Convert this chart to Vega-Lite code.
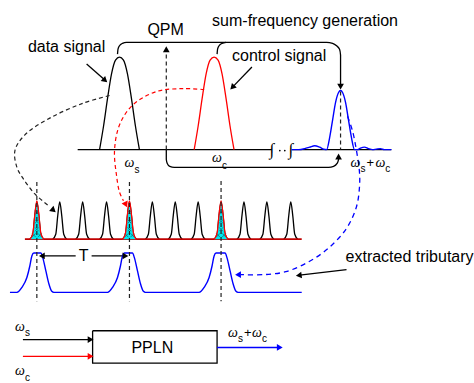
{
"$schema": "https://vega.github.io/schema/vega-lite/v6.json",
"width": 474, "height": 383,
"autosize": {"type": "fit", "contains": "padding"},
"padding": 0,
"background": "white",
"config": {"view": {"stroke": null}},
"datasets": {
"blk": [
{"id":"base1","x":78,"y":152},{"id":"base1","x":273,"y":152},
{"id":"base2","x":293,"y":152},{"id":"base2","x":393,"y":152},
{"id":"data","x":100,"y":152},{"id":"data","x":104,"y":128},{"id":"data","x":108,"y":100},{"id":"data","x":112,"y":75},{"id":"data","x":116,"y":61},{"id":"data","x":120,"y":58},{"id":"data","x":124,"y":61},{"id":"data","x":128,"y":75},{"id":"data","x":132,"y":100},{"id":"data","x":136,"y":128},{"id":"data","x":140,"y":152},
{"id":"br1","x":118,"y":55},{"id":"br1","x":118.5,"y":50},{"id":"br1","x":120,"y":46.5},{"id":"br1","x":123,"y":44},{"id":"br1","x":127,"y":43},{"id":"br1","x":328,"y":43},{"id":"br1","x":334,"y":44},{"id":"br1","x":338,"y":46.5},{"id":"br1","x":341,"y":50},{"id":"br1","x":342,"y":56},{"id":"br1","x":342,"y":86},
{"id":"br2","x":218,"y":55},{"id":"br2","x":218.5,"y":50},{"id":"br2","x":220,"y":46.5},{"id":"br2","x":223,"y":44},{"id":"br2","x":227,"y":43},
{"id":"br3","x":167,"y":152},{"id":"br3","x":167,"y":162},{"id":"br3","x":168,"y":166},{"id":"br3","x":170.5,"y":169},{"id":"br3","x":175,"y":170},{"id":"br3","x":330,"y":170},{"id":"br3","x":335,"y":169},{"id":"br3","x":338.5,"y":166},{"id":"br3","x":340,"y":162},{"id":"br3","x":340,"y":160},
{"id":"a1","x":87,"y":65},{"id":"a1","x":105,"y":81},
{"id":"a2","x":253,"y":68},{"id":"a2","x":234,"y":88},
{"id":"t1","x":43,"y":260},{"id":"t1","x":76,"y":260},
{"id":"t2","x":92,"y":260},{"id":"t2","x":125,"y":260},
{"id":"a3","x":348,"y":274},{"id":"a3","x":301,"y":279.6},
{"id":"box","x":93,"y":336},{"id":"box","x":218,"y":336},{"id":"box","x":218,"y":369},{"id":"box","x":93,"y":369},{"id":"box","x":93,"y":336},
{"id":"a4","x":23,"y":345},{"id":"a4","x":90,"y":345}
],
"train": [
{"id":"p1","x":30,"y":243},{"id":"p1","x":33,"y":238},{"id":"p1","x":35,"y":219},{"id":"p1","x":37,"y":205},{"id":"p1","x":39,"y":219},{"id":"p1","x":41,"y":238},{"id":"p1","x":44,"y":243},
{"id":"p2","x":53,"y":243},{"id":"p2","x":56,"y":238},{"id":"p2","x":58,"y":219},{"id":"p2","x":60,"y":205},{"id":"p2","x":62,"y":219},{"id":"p2","x":64,"y":238},{"id":"p2","x":67,"y":243},
{"id":"p3","x":76,"y":243},{"id":"p3","x":79,"y":238},{"id":"p3","x":81,"y":219},{"id":"p3","x":83,"y":205},{"id":"p3","x":85,"y":219},{"id":"p3","x":87,"y":238},{"id":"p3","x":90,"y":243},
{"id":"p4","x":100,"y":243},{"id":"p4","x":103,"y":238},{"id":"p4","x":105,"y":219},{"id":"p4","x":107,"y":205},{"id":"p4","x":109,"y":219},{"id":"p4","x":111,"y":238},{"id":"p4","x":114,"y":243},
{"id":"p5","x":123,"y":243},{"id":"p5","x":126,"y":238},{"id":"p5","x":128,"y":219},{"id":"p5","x":130,"y":205},{"id":"p5","x":132,"y":219},{"id":"p5","x":134,"y":238},{"id":"p5","x":137,"y":243},
{"id":"p6","x":146,"y":243},{"id":"p6","x":149,"y":238},{"id":"p6","x":151,"y":219},{"id":"p6","x":153,"y":205},{"id":"p6","x":155,"y":219},{"id":"p6","x":157,"y":238},{"id":"p6","x":160,"y":243},
{"id":"p7","x":169,"y":243},{"id":"p7","x":172,"y":238},{"id":"p7","x":174,"y":219},{"id":"p7","x":176,"y":205},{"id":"p7","x":178,"y":219},{"id":"p7","x":180,"y":238},{"id":"p7","x":183,"y":243},
{"id":"p8","x":192,"y":243},{"id":"p8","x":195,"y":238},{"id":"p8","x":197,"y":219},{"id":"p8","x":199,"y":205},{"id":"p8","x":201,"y":219},{"id":"p8","x":203,"y":238},{"id":"p8","x":206,"y":243},
{"id":"p9","x":215,"y":243},{"id":"p9","x":218,"y":238},{"id":"p9","x":220,"y":219},{"id":"p9","x":222,"y":205},{"id":"p9","x":224,"y":219},{"id":"p9","x":226,"y":238},{"id":"p9","x":229,"y":243},
{"id":"p10","x":238,"y":243},{"id":"p10","x":241,"y":238},{"id":"p10","x":243,"y":219},{"id":"p10","x":245,"y":205},{"id":"p10","x":247,"y":219},{"id":"p10","x":249,"y":238},{"id":"p10","x":252,"y":243},
{"id":"p11","x":261,"y":243},{"id":"p11","x":264,"y":238},{"id":"p11","x":266,"y":219},{"id":"p11","x":268,"y":205},{"id":"p11","x":270,"y":219},{"id":"p11","x":272,"y":238},{"id":"p11","x":275,"y":243},
{"id":"p12","x":285,"y":243},{"id":"p12","x":288,"y":238},{"id":"p12","x":290,"y":219},{"id":"p12","x":292,"y":205},{"id":"p12","x":294,"y":219},{"id":"p12","x":296,"y":238},{"id":"p12","x":299,"y":243}
],
"hl": [
{"id":"h1","x":30,"y":243},{"id":"h1","x":33,"y":237},{"id":"h1","x":35,"y":218},{"id":"h1","x":37,"y":204},{"id":"h1","x":39,"y":218},{"id":"h1","x":41,"y":237},{"id":"h1","x":44,"y":243},
{"id":"h2","x":123,"y":243},{"id":"h2","x":126,"y":237},{"id":"h2","x":128,"y":218},{"id":"h2","x":130,"y":204},{"id":"h2","x":132,"y":218},{"id":"h2","x":134,"y":237},{"id":"h2","x":137,"y":243},
{"id":"h3","x":215,"y":243},{"id":"h3","x":218,"y":237},{"id":"h3","x":220,"y":218},{"id":"h3","x":222,"y":204},{"id":"h3","x":224,"y":218},{"id":"h3","x":226,"y":237},{"id":"h3","x":229,"y":243}
],
"hatch": [
{"x":37,"y":216},{"x":37,"y":225},{"x":37,"y":233},{"x":34,"y":239},{"x":40,"y":239},
{"x":130,"y":216},{"x":130,"y":225},{"x":130,"y":233},{"x":127,"y":239},{"x":133,"y":239},
{"x":222,"y":216},{"x":222,"y":225},{"x":222,"y":233},{"x":219,"y":239},{"x":225,"y":239}
],
"base": [{"id":"b","x":25,"y":243},{"id":"b","x":303,"y":243}],
"blkd": [
{"id":"qpm","x":167,"y":152},{"id":"qpm","x":167,"y":52},
{"id":"v1","x":342,"y":93},{"id":"v1","x":342,"y":152},
{"id":"v2","x":37,"y":185},{"id":"v2","x":37,"y":306},
{"id":"v3","x":130,"y":185},{"id":"v3","x":130,"y":306},
{"id":"v4","x":222,"y":184},{"id":"v4","x":222,"y":306},
{"id":"c","x":110,"y":97},{"id":"c","x":83,"y":105},{"id":"c","x":50,"y":120},{"id":"c","x":25,"y":137},{"id":"c","x":15,"y":153},{"id":"c","x":17,"y":170},{"id":"c","x":23,"y":181},{"id":"c","x":35,"y":197},{"id":"c","x":50,"y":210}
],
"red": [
{"id":"ctl","x":195,"y":152},{"id":"ctl","x":199,"y":128},{"id":"ctl","x":203,"y":100},{"id":"ctl","x":207,"y":75},{"id":"ctl","x":211,"y":61},{"id":"ctl","x":215,"y":58},{"id":"ctl","x":219,"y":61},{"id":"ctl","x":223,"y":75},{"id":"ctl","x":227,"y":100},{"id":"ctl","x":231,"y":128},{"id":"ctl","x":235,"y":152},
{"id":"ra","x":23,"y":362},{"id":"ra","x":90,"y":362}
],
"redd": [
{"id":"rc","x":205,"y":91},{"id":"rc","x":185,"y":90},{"id":"rc","x":157,"y":93},{"id":"rc","x":133,"y":107},{"id":"rc","x":120,"y":127},{"id":"rc","x":115,"y":153},{"id":"rc","x":117,"y":178},{"id":"rc","x":120,"y":195},{"id":"rc","x":124,"y":204}
],
"blue": [
{"id":"sfg","x":293,"y":152},{"id":"sfg","x":300,"y":152},{"id":"sfg","x":306,"y":151},{"id":"sfg","x":311,"y":149.5},{"id":"sfg","x":316,"y":148},{"id":"sfg","x":321,"y":149.5},{"id":"sfg","x":325,"y":151.5},{"id":"sfg","x":328,"y":152},{"id":"sfg","x":331,"y":140},{"id":"sfg","x":334,"y":122},{"id":"sfg","x":337,"y":104},{"id":"sfg","x":340,"y":94},{"id":"sfg","x":342,"y":92},{"id":"sfg","x":344,"y":94},{"id":"sfg","x":347,"y":104},{"id":"sfg","x":350,"y":122},{"id":"sfg","x":353,"y":140},{"id":"sfg","x":356,"y":152},{"id":"sfg","x":359,"y":152},{"id":"sfg","x":362,"y":150.5},{"id":"sfg","x":366,"y":149.5},{"id":"sfg","x":370,"y":151},{"id":"sfg","x":374,"y":152},{"id":"sfg","x":378,"y":151.5},{"id":"sfg","x":382,"y":151},{"id":"sfg","x":386,"y":152},{"id":"sfg","x":393,"y":152},
{"id":"trib","x":10,"y":297},{"id":"trib","x":17,"y":297},{"id":"trib","x":22,"y":292},{"id":"trib","x":27,"y":282},{"id":"trib","x":30,"y":270},{"id":"trib","x":32,"y":260},{"id":"trib","x":34,"y":257},{"id":"trib","x":41,"y":257},{"id":"trib","x":43,"y":262},{"id":"trib","x":46,"y":275},{"id":"trib","x":49,"y":288},{"id":"trib","x":52,"y":296},{"id":"trib","x":54,"y":297},
{"id":"trib","x":108,"y":297},{"id":"trib","x":113,"y":292},{"id":"trib","x":118,"y":282},{"id":"trib","x":121,"y":270},{"id":"trib","x":123,"y":260},{"id":"trib","x":125,"y":257},{"id":"trib","x":133,"y":257},{"id":"trib","x":135,"y":262},{"id":"trib","x":138,"y":275},{"id":"trib","x":141,"y":288},{"id":"trib","x":144,"y":296},{"id":"trib","x":146,"y":297},
{"id":"trib","x":200,"y":297},{"id":"trib","x":205,"y":292},{"id":"trib","x":210,"y":282},{"id":"trib","x":213,"y":270},{"id":"trib","x":215,"y":260},{"id":"trib","x":217,"y":257},{"id":"trib","x":226,"y":257},{"id":"trib","x":228,"y":262},{"id":"trib","x":231,"y":275},{"id":"trib","x":234,"y":288},{"id":"trib","x":237,"y":296},{"id":"trib","x":239,"y":297},{"id":"trib","x":303,"y":297},
{"id":"ba","x":218,"y":353},{"id":"ba","x":280,"y":353}
],
"blued": [
{"id":"bc","x":349,"y":118},{"id":"bc","x":354,"y":133},{"id":"bc","x":358,"y":153},{"id":"bc","x":361,"y":175},{"id":"bc","x":361,"y":190},{"id":"bc","x":358,"y":210},{"id":"bc","x":348,"y":232},{"id":"bc","x":330,"y":252},{"id":"bc","x":310,"y":266},{"id":"bc","x":287,"y":276},{"id":"bc","x":265,"y":279},{"id":"bc","x":242,"y":279}
],
"headsK": [
{"x":104.8,"y":81,"a":132},{"x":234,"y":88,"a":224},{"x":167,"y":51,"a":0},{"x":342,"y":87,"a":180},{"x":340,"y":160,"a":0},{"x":53,"y":213,"a":131},{"x":43,"y":260,"a":270},{"x":125,"y":260,"a":90},{"x":301,"y":279.6,"a":263},{"x":90,"y":345,"a":90}
],
"headsR": [{"x":126,"y":207,"a":155},{"x":90,"y":362,"a":90}],
"headsB": [{"x":240,"y":279,"a":270},{"x":280,"y":353,"a":90}],
"labels": [
{"x":148,"y":36,"t":"QPM"},{"x":213,"y":26,"t":"sum-frequency generation"},{"x":28,"y":53,"t":"data signal"},{"x":233,"y":62,"t":"control signal"},{"x":347,"y":266,"t":"extracted tributary"},{"x":79,"y":265,"t":"T"},{"x":132,"y":359,"t":"PPLN"}
],
"omega": [
{"x":125,"y":170,"t":"ω"},{"x":213,"y":165,"t":"ω"},{"x":352,"y":170,"t":"ω"},{"x":377,"y":170,"t":"ω"},{"x":15,"y":336,"t":"ω"},{"x":15,"y":381,"t":"ω"},{"x":229,"y":342,"t":"ω"},{"x":253,"y":342,"t":"ω"}
],
"subs": [
{"x":135,"y":176,"t":"s"},{"x":223,"y":172,"t":"c"},{"x":362,"y":175,"t":"s"},{"x":387,"y":175,"t":"c"},{"x":25,"y":341,"t":"s"},{"x":25,"y":387,"t":"c"},{"x":239,"y":347,"t":"s"},{"x":263,"y":347,"t":"c"}
],
"plus": [{"x":368,"y":170,"t":"+"},{"x":245,"y":342,"t":"+"}],
"brk": [{"x":273,"y":152,"t":"∫"},{"x":292,"y":152,"t":"∫"}],
"dots": [{"x":281,"y":153},{"x":286,"y":153}]
},
"encoding": {
"x": {"field": "x", "type": "quantitative", "scale": {"domain": [0, 474], "nice": false, "zero": false}, "axis": null},
"y": {"field": "y", "type": "quantitative", "scale": {"domain": [0, 383], "nice": false, "zero": false, "reverse": true}, "axis": null}
},
"layer": [
{"data": {"name": "blk"}, "mark": {"type": "line", "color": "black", "strokeWidth": 1.3, "interpolate": "monotone"}, "encoding": {"detail": {"field": "id"}, "order": {"value": null}}},
{"data": {"name": "red"}, "mark": {"type": "line", "color": "#ff0000", "strokeWidth": 1.3, "interpolate": "monotone"}, "encoding": {"detail": {"field": "id"}, "order": {"value": null}}},
{"data": {"name": "train"}, "mark": {"type": "line", "color": "black", "strokeWidth": 1.3, "interpolate": "monotone"}, "encoding": {"detail": {"field": "id"}}},
{"data": {"name": "base"}, "mark": {"type": "line", "color": "#c00000", "strokeWidth": 1.8}, "encoding": {"detail": {"field": "id"}}},
{"data": {"name": "hl"}, "mark": {"type": "area", "color": "#00e8f0", "interpolate": "monotone"}, "encoding": {"detail": {"field": "id"}, "y2": {"datum": 243}}},
{"data": {"name": "hatch"}, "mark": {"type": "point", "shape": "M-1,-1L1,1M-1,1L1,-1", "filled": false, "size": 14, "color": "#1a4a50", "strokeWidth": 0.6, "opacity": 1}},
{"data": {"name": "hl"}, "mark": {"type": "line", "color": "#ff0000", "strokeWidth": 1.3, "interpolate": "monotone"}, "encoding": {"detail": {"field": "id"}}},
{"data": {"name": "blue"}, "mark": {"type": "line", "color": "#0000ff", "strokeWidth": 1.4, "interpolate": "monotone"}, "encoding": {"detail": {"field": "id"}, "order": {"value": null}}},
{"data": {"name": "blkd"}, "mark": {"type": "line", "color": "#222222", "strokeWidth": 1.2, "strokeDash": [4, 3], "interpolate": "catmull-rom"}, "encoding": {"detail": {"field": "id"}, "order": {"value": null}}},
{"data": {"name": "redd"}, "mark": {"type": "line", "color": "#ff0000", "strokeWidth": 1.2, "strokeDash": [4, 3], "interpolate": "catmull-rom"}, "encoding": {"detail": {"field": "id"}, "order": {"value": null}}},
{"data": {"name": "blued"}, "mark": {"type": "line", "color": "#0000ff", "strokeWidth": 1.3, "strokeDash": [5, 4], "interpolate": "catmull-rom"}, "encoding": {"detail": {"field": "id"}, "order": {"value": null}}},
{"data": {"name": "headsK"}, "mark": {"type": "point", "shape": "triangle", "filled": true, "size": 45, "color": "black", "opacity": 1}, "encoding": {"angle": {"field": "a", "type": "quantitative", "scale": null}}},
{"data": {"name": "headsR"}, "mark": {"type": "point", "shape": "triangle", "filled": true, "size": 45, "color": "#ff0000", "opacity": 1}, "encoding": {"angle": {"field": "a", "type": "quantitative", "scale": null}}},
{"data": {"name": "headsB"}, "mark": {"type": "point", "shape": "triangle", "filled": true, "size": 45, "color": "#0000ff", "opacity": 1}, "encoding": {"angle": {"field": "a", "type": "quantitative", "scale": null}}},
{"data": {"name": "dots"}, "mark": {"type": "point", "shape": "circle", "filled": true, "size": 3, "color": "black", "opacity": 1}},
{"data": {"name": "labels"}, "mark": {"type": "text", "font": "Liberation Sans", "fontSize": 16, "align": "left", "baseline": "alphabetic", "color": "black"}, "encoding": {"text": {"field": "t"}}},
{"data": {"name": "omega"}, "mark": {"type": "text", "font": "Liberation Serif", "fontStyle": "italic", "fontSize": 14, "align": "left", "baseline": "alphabetic", "color": "black"}, "encoding": {"text": {"field": "t"}}},
{"data": {"name": "subs"}, "mark": {"type": "text", "font": "Liberation Sans", "fontSize": 10, "align": "left", "baseline": "alphabetic", "color": "black"}, "encoding": {"text": {"field": "t"}}},
{"data": {"name": "plus"}, "mark": {"type": "text", "font": "Liberation Sans", "fontSize": 13, "align": "left", "baseline": "alphabetic", "color": "black"}, "encoding": {"text": {"field": "t"}}},
{"data": {"name": "brk"}, "mark": {"type": "text", "font": "Liberation Serif", "fontStyle": "italic", "fontSize": 17, "align": "center", "baseline": "middle", "color": "black"}, "encoding": {"text": {"field": "t"}}}
]
}
